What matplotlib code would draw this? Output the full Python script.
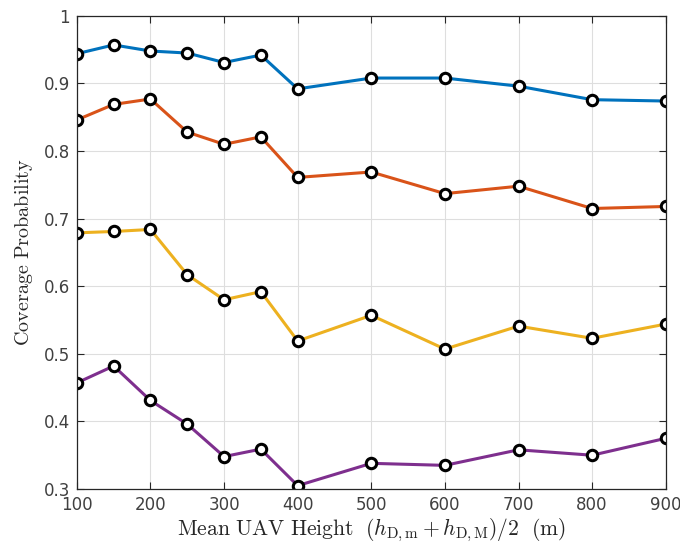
import numpy as np
import matplotlib
matplotlib.use("Agg")
import matplotlib.pyplot as plt

plt.rcParams['mathtext.fontset'] = 'cm'

# mean UAV height (m)
heights = [100, 150, 200, 250, 300, 350, 400, 500, 600, 700, 800, 900]

# coverage probability curves, top to bottom
cov_blue = [0.944, 0.957, 0.948, 0.945, 0.931, 0.942, 0.892, 0.908, 0.908, 0.896, 0.876, 0.874]
cov_red = [0.846, 0.869, 0.877, 0.828, 0.810, 0.821, 0.761, 0.769, 0.737, 0.748, 0.715, 0.718]
cov_yellow = [0.679, 0.681, 0.684, 0.617, 0.580, 0.592, 0.519, 0.557, 0.507, 0.541, 0.523, 0.544]
cov_purple = [0.457, 0.482, 0.431, 0.396, 0.348, 0.359, 0.305, 0.338, 0.335, 0.358, 0.350, 0.375]

series = [cov_blue, cov_red, cov_yellow, cov_purple]
colors = ['#0072BD', '#D95319', '#EDB120', '#7E2F8E']

fig = plt.figure(figsize=(6.8, 5.47), dpi=100)
ax = fig.add_axes([0.113, 0.106, 0.866, 0.865])

for ys, c in zip(series, colors):
    ax.plot(heights, ys, color=c, linewidth=2.2, marker='o', markersize=7.5,
            markerfacecolor='white', markeredgecolor='black', markeredgewidth=2.2)

ax.set_xlim(100, 900)
ax.set_ylim(0.3, 1.0)
ax.set_xticks(np.arange(100, 901, 100))
ax.set_yticks(np.arange(0.3, 1.01, 0.1))
ax.set_yticklabels(['0.3', '0.4', '0.5', '0.6', '0.7', '0.8', '0.9', '1'])
ax.grid(True, color='#dedede', linewidth=0.8)
ax.set_axisbelow(True)
ax.tick_params(direction='in', top=True, right=True, labelsize=12,
               colors='#262626', length=5, pad=5)
ax.tick_params(labelcolor='#404040')
for s in ax.spines.values():
    s.set_color('#262626')
    s.set_linewidth(0.9)

ax.set_xlabel(r'$\mathrm{Mean\ UAV\ Height}\ \ (h_{\mathrm{D,m}}+h_{\mathrm{D,M}})/2\ \ \mathrm{(m)}$',
              fontsize=15.5, color='#262626', labelpad=2)
ax.set_ylabel(r'$\mathrm{Coverage\ Probability}$', fontsize=14.5, color='#262626', labelpad=6)

fig.savefig('out.png', dpi=100)
